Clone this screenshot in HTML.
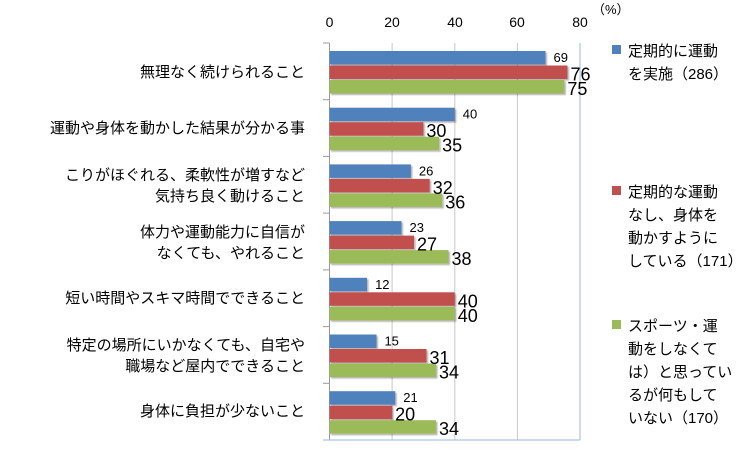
<!DOCTYPE html>
<html><head><meta charset="utf-8"><style>
body{margin:0;background:#fff;font-family:"Liberation Sans","Noto Sans CJK JP",sans-serif;}
</style></head><body>
<svg width="745" height="447" xmlns="http://www.w3.org/2000/svg" font-family="Liberation Sans, Noto Sans CJK JP, sans-serif">
<defs><filter id="s" x="-5%" y="-20%" width="110%" height="160%"><feDropShadow dx="1.5" dy="1.5" stdDeviation="0.8" flood-color="#000" flood-opacity="0.3"/></filter></defs>
<g stroke="#c8c8c8" stroke-width="1">
<line x1="392.1" y1="43" x2="392.1" y2="440"/>
<line x1="454.8" y1="43" x2="454.8" y2="440"/>
<line x1="517.4" y1="43" x2="517.4" y2="440"/>
</g>
<line x1="580" y1="43" x2="580" y2="440" stroke="#9bb7dc"/>
<line x1="329.5" y1="43" x2="329.5" y2="440" stroke="#9a9a9a"/>
<line x1="323" y1="440" x2="580" y2="440" stroke="#9bb7dc"/>
<g stroke="#9a9a9a">
<line x1="323" y1="43" x2="329.5" y2="43"/><line x1="323" y1="99.7" x2="329.5" y2="99.7"/><line x1="323" y1="156.4" x2="329.5" y2="156.4"/><line x1="323" y1="213.1" x2="329.5" y2="213.1"/><line x1="323" y1="269.9" x2="329.5" y2="269.9"/><line x1="323" y1="326.6" x2="329.5" y2="326.6"/><line x1="323" y1="383.3" x2="329.5" y2="383.3"/>
</g>
<g font-size="14" fill="#000" text-anchor="middle">
<text x="329.5" y="27">0</text><text x="392" y="27">20</text><text x="455" y="27">40</text><text x="517" y="27">60</text><text x="580" y="27">80</text>
</g>
<text x="592" y="14" font-size="13">（%）</text>
<g id="bars" filter="url(#s)"></g>
<g id="lbl"></g>
<g font-size="15" fill="#000" text-anchor="end">
<text x="305" y="77">無理なく続けられること</text>
<text x="305" y="133">運動や身体を動かした結果が分かる事</text>
<text x="305" y="180">こりがほぐれる、柔軟性が増すなど</text>
<text x="305" y="201">気持ち良く動けること</text>
<text x="305" y="237">体力や運動能力に自信が</text>
<text x="305" y="258">なくても、やれること</text>
<text x="305" y="303">短い時間やスキマ時間でできること</text>
<text x="305" y="350">特定の場所にいかなくても、自宅や</text>
<text x="305" y="371">職場など屋内でできること</text>
<text x="305" y="416">身体に負担が少ないこと</text>
</g>
<g font-size="15" fill="#000">
<rect x="612" y="45" width="9" height="9" fill="#4f81bd"/>
<text x="628" y="56">定期的に運動</text><text x="628" y="79">を実施（286）</text>
<rect x="612" y="186" width="9" height="9" fill="#c0504d"/>
<text x="628" y="197">定期的な運動</text><text x="628" y="220">なし、身体を</text><text x="628" y="243">動かすように</text><text x="628" y="266">している（171）</text>
<rect x="612" y="320" width="9" height="9" fill="#9bbb59"/>
<text x="628" y="331">スポーツ・運</text><text x="628" y="354">動をしなくて</text><text x="628" y="377">は）と思ってい</text><text x="628" y="400">るが何もして</text><text x="628" y="423">いない（170）</text>
</g>
<script>
var d=[[69,76,75],[40,30,35],[26,32,36],[23,27,38],[12,40,40],[15,31,34],[21,20,34]];
var c=["#4f81bd","#c0504d","#9bbb59"],ns="http://www.w3.org/2000/svg";
var B=document.getElementById("bars"),L=document.getElementById("lbl");
d.forEach(function(r,i){var t=43+i*56.7;r.forEach(function(v,j){
var y=t+8+j*14.5,w=v*3.131;var e=document.createElementNS(ns,"rect");
e.setAttribute("x",329.5);e.setAttribute("y",y);e.setAttribute("width",w);e.setAttribute("height",13.5);e.setAttribute("fill",c[j]);B.appendChild(e);
var tx=document.createElementNS(ns,"text");tx.textContent=v;
tx.setAttribute("x",329.5+w+(j==0?8:3));tx.setAttribute("y",j==0?y+11:y+15);
tx.setAttribute("font-size",j==0?13:18);L.appendChild(tx);});});
</script>
</svg>
</body></html>
